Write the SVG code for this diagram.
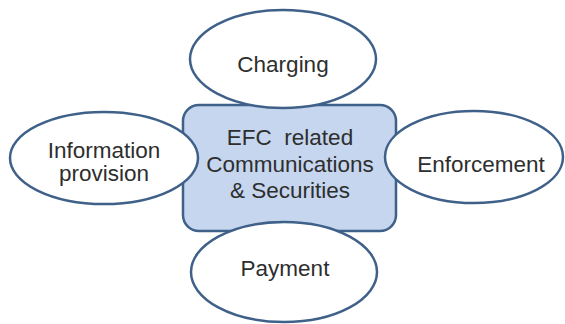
<svg xmlns="http://www.w3.org/2000/svg" width="565" height="324" viewBox="0 0 565 324">
<style>
.sh{stroke:#3f6189;stroke-width:2.5}
.el{fill:#ffffff}
.t{font-family:"Liberation Sans",Arial,sans-serif;font-size:22.5px;fill:#2e2e2e;text-anchor:middle;white-space:pre}
</style>
<rect x="0" y="0" width="565" height="324" fill="#ffffff"/>
<g id="center">
<rect class="sh" x="183" y="105" width="213" height="126" rx="16" fill="#c5d6ee"/>
<text class="t" x="290" y="145" xml:space="preserve">EFC  related</text>
<text class="t" x="290" y="172">Communications</text>
<text class="t" x="290" y="198">&amp; Securities</text>
</g>
<g id="connectors"></g>
<g id="charging">
<ellipse class="sh el" cx="283" cy="59" rx="93" ry="49"/>
<text class="t" x="283" y="72">Charging</text>
</g>
<g id="information">
<ellipse class="sh el" cx="104" cy="158" rx="94" ry="46"/>
<text class="t" x="104" y="158">Information</text>
<text class="t" x="104" y="181">provision</text>
</g>
<g id="enforcement">
<ellipse class="sh el" cx="474" cy="157" rx="89" ry="46"/>
<text class="t" x="481" y="172">Enforcement</text>
</g>
<g id="payment">
<ellipse class="sh el" cx="284" cy="272" rx="93" ry="50"/>
<text class="t" x="285" y="276">Payment</text>
</g>
</svg>
